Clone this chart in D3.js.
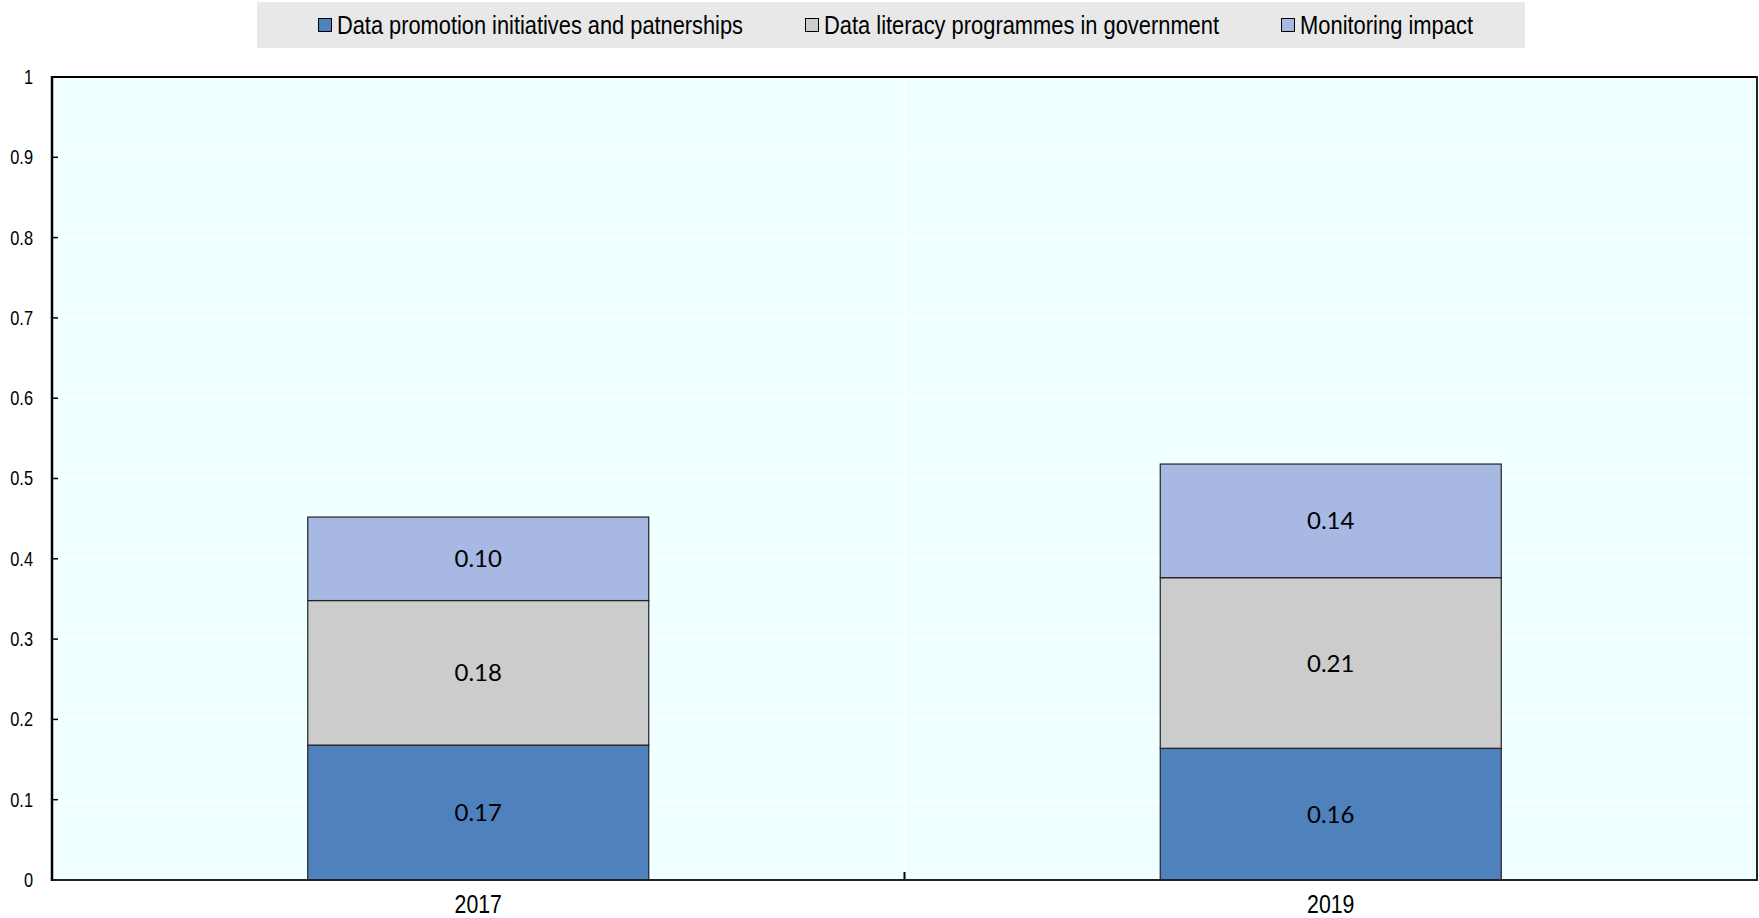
<!DOCTYPE html>
<html>
<head>
<meta charset="utf-8">
<script src="https://cdn.jsdelivr.net/npm/d3@7"></script>
<style>
  html, body { margin: 0; padding: 0; background: #ffffff; }
  svg { display: block; }
  .narrow { font-family: "Liberation Sans Narrow", "Arial Narrow", "Liberation Sans", Arial, sans-serif; }
</style>
</head>
<body>
<svg id="chart" width="1759" height="918"></svg>
<script>
// Years shown on the x axis
const years = ["2017", "2019"];

// Series names, in stacking order (bottom to top)
const seriesNames = [
  "Data promotion initiatives and patnerships",
  "Data literacy programmes in government",
  "Monitoring impact"
];

// Values per series, one per year
const promotion = [0.168, 0.164];
const literacy  = [0.180, 0.2125];
const monitoring = [0.104, 0.1415];

// Y axis ticks
const yTicks = [0, 0.1, 0.2, 0.3, 0.4, 0.5, 0.6, 0.7, 0.8, 0.9, 1];
const yTickLabels = ["0", "0.1", "0.2", "0.3", "0.4", "0.5", "0.6", "0.7", "0.8", "0.9", "1"];

const colors = ["#4F81BD", "#CCCCCC", "#A7B9E3"];

const svg = d3.select("#chart");
const plot = { left: 52, top: 77, right: 1757, bottom: 880 };
const squeeze = 0.82; // horizontal condensing for the narrow axis/legend type

const rows = years.map((y, i) => ({
  year: y,
  s0: promotion[i],
  s1: literacy[i],
  s2: monitoring[i]
}));
const keys = ["s0", "s1", "s2"];
const stacked = d3.stack().keys(keys)(rows);

const x = d3.scaleBand().domain(years).range([plot.left, plot.right]).paddingInner(0.6).paddingOuter(0.3);
const xBand = d3.scaleBand().domain(years).range([plot.left, plot.right]);
const y = d3.scaleLinear().domain([0, 1]).range([plot.bottom, plot.top]);

// Plot background
svg.append("rect")
  .attr("x", plot.left).attr("y", plot.top)
  .attr("width", plot.right - plot.left).attr("height", plot.bottom - plot.top)
  .attr("fill", "#F0FFFF");

// White horizontal gridlines
svg.append("g")
  .selectAll("line")
  .data(yTicks.slice(1, -1))
  .join("line")
  .attr("x1", plot.left).attr("x2", plot.right)
  .attr("y1", d => Math.round(y(d)) + 0.5).attr("y2", d => Math.round(y(d)) + 0.5)
  .attr("stroke", "#ffffff").attr("stroke-width", 1.5);

// White vertical gridline at the category boundary
const boundaries = years.slice(1).map(yr => xBand(yr));
svg.append("g")
  .selectAll("line")
  .data(boundaries)
  .join("line")
  .attr("x1", d => d).attr("x2", d => d)
  .attr("y1", plot.top).attr("y2", plot.bottom)
  .attr("stroke", "#ffffff").attr("stroke-width", 2);

// Stacked bars
const layer = svg.append("g")
  .selectAll("g")
  .data(stacked)
  .join("g")
  .attr("fill", (d, i) => colors[i]);

layer.selectAll("rect")
  .data(d => d)
  .join("rect")
  .attr("x", d => x(d.data.year))
  .attr("width", x.bandwidth())
  .attr("y", d => y(d[1]))
  .attr("height", d => y(d[0]) - y(d[1]))
  .attr("stroke", "#222222")
  .attr("stroke-width", 1.2);

// Value labels inside each segment
const fmt = d3.format(".2f");
layer.selectAll("text")
  .data(d => d)
  .join("text")
  .attr("x", d => x(d.data.year) + x.bandwidth() / 2)
  .attr("y", d => (y(d[0]) + y(d[1])) / 2)
  .attr("dy", "0.36em")
  .attr("text-anchor", "middle")
  .attr("fill", "#000000")
  .style("font-family", "Lato, 'Open Sans', sans-serif")
  .style("font-size", "24px")
  .text(d => fmt(d[1] - d[0]));

// Y axis
const yAxis = d3.axisLeft(y)
  .tickValues(yTicks)
  .tickFormat((d, i) => yTickLabels[i])
  .tickSize(0)
  .tickPadding(19);
const gy = svg.append("g")
  .attr("transform", `translate(${plot.left},0)`)
  .call(yAxis);
gy.select(".domain").remove();
gy.selectAll("text")
  .attr("class", "narrow")
  .attr("x", -19 / squeeze)
  .attr("transform", `scale(${squeeze},1)`)
  .style("font-size", "20px")
  .attr("fill", "#000");
// Inward tick marks
svg.append("g")
  .selectAll("line")
  .data(yTicks.slice(1, -1))
  .join("line")
  .attr("x1", plot.left).attr("x2", plot.left + 6)
  .attr("y1", d => y(d)).attr("y2", d => y(d))
  .attr("stroke", "#000").attr("stroke-width", 1.5);

// X axis
const xAxis = d3.axisBottom(x).tickSize(0).tickPadding(15);
const gx = svg.append("g")
  .attr("transform", `translate(0,${plot.bottom})`)
  .call(xAxis);
gx.select(".domain").remove();
gx.selectAll("text")
  .attr("class", "narrow")
  .attr("transform", `scale(${squeeze},1)`)
  .style("font-size", "26px")
  .attr("fill", "#000");

// Category boundary tick
svg.append("g")
  .selectAll("line")
  .data(boundaries)
  .join("line")
  .attr("x1", d => d).attr("x2", d => d)
  .attr("y1", plot.bottom - 8).attr("y2", plot.bottom)
  .attr("stroke", "#000").attr("stroke-width", 2);

// Plot frame
svg.append("line")
  .attr("x1", plot.left).attr("x2", plot.right)
  .attr("y1", plot.bottom).attr("y2", plot.bottom)
  .attr("stroke", "#222").attr("stroke-width", 2);
svg.append("line")
  .attr("x1", plot.left).attr("x2", plot.right)
  .attr("y1", plot.top).attr("y2", plot.top)
  .attr("stroke", "#000").attr("stroke-width", 2);
svg.append("line")
  .attr("x1", plot.left).attr("x2", plot.left)
  .attr("y1", plot.top - 1).attr("y2", plot.bottom + 1)
  .attr("stroke", "#000").attr("stroke-width", 2.5);
svg.append("line")
  .attr("x1", plot.right).attr("x2", plot.right)
  .attr("y1", plot.top - 1).attr("y2", plot.bottom + 1)
  .attr("stroke", "#222").attr("stroke-width", 2);

// Legend
const legend = svg.append("g");
legend.append("rect")
  .attr("x", 257).attr("y", 2)
  .attr("width", 1268).attr("height", 46)
  .attr("fill", "#E8E8E8");
const legendX = [318, 805, 1281];
const legendW = [406, 395, 173];
const items = legend.selectAll("g.item")
  .data(seriesNames)
  .join("g")
  .attr("class", "item")
  .attr("transform", (d, i) => `translate(${legendX[i]},25)`);
items.append("rect")
  .attr("x", 0.5).attr("y", -6.5)
  .attr("width", 13).attr("height", 13)
  .attr("fill", (d, i) => colors[i])
  .attr("stroke", "#000").attr("stroke-width", 1);
items.append("text")
  .attr("class", "narrow")
  .attr("x", 19)
  .attr("dy", "0.36em")
  .attr("textLength", (d, i) => legendW[i])
  .attr("lengthAdjust", "spacingAndGlyphs")
  .style("font-size", "25px")
  .attr("fill", "#000")
  .text(d => d);
</script>
</body>
</html>
